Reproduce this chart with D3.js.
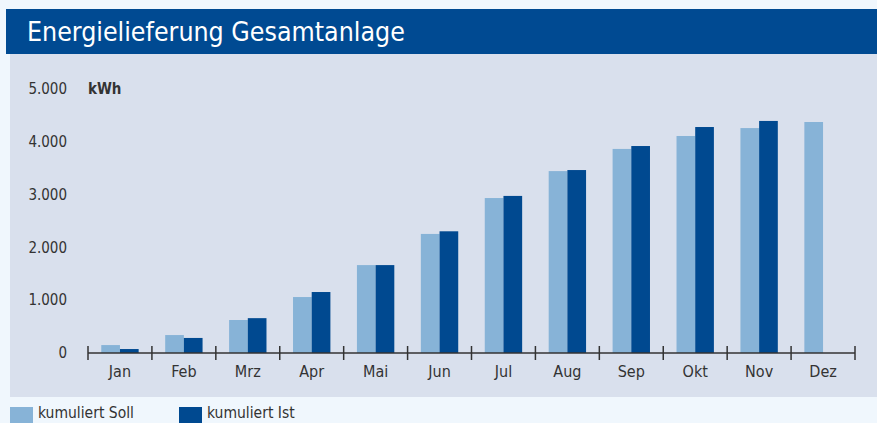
<!DOCTYPE html>
<html>
<head>
  <script src="https://d3js.org/d3.v7.min.js"></script>
  <title>Energielieferung Gesamtanlage</title>
  <style>
    body { margin: 0; background: #f0f7fd; }
    svg { display: block; }
  </style>
</head>
<body>
  <div id="chart"></div>
  <script>
    // data (kWh, cumulative)
    const months = ["Jan", "Feb", "Mrz", "Apr", "Mai", "Jun", "Jul", "Aug", "Sep", "Okt", "Nov", "Dez"];
    const sollValues = [150, 340, 625, 1060, 1665, 2255, 2935, 3445, 3865, 4110, 4260, 4375];
    const istValues = [75, 285, 660, 1155, 1665, 2305, 2975, 3465, 3920, 4280, 4395, null];
    const yTicks = [0, 1000, 2000, 3000, 4000, 5000];
    const seriesNames = ["kumuliert Soll", "kumuliert Ist"];
    const seriesColors = ["#87b3d7", "#004990"];

    const W = 877, H = 423;
    const font = "'Liberation Sans Narrow', 'DejaVu Sans Condensed', 'Roboto Condensed', sans-serif";

    const svg = d3.select("#chart").append("svg")
      .attr("width", W)
      .attr("height", H)
      .style("font-family", font);

    // page background, title bar, chart panel
    svg.append("rect").attr("width", W).attr("height", H).attr("fill", "#f0f7fd");
    svg.append("rect").attr("x", 6).attr("y", 9).attr("width", W - 6).attr("height", 45).attr("fill", "#004a92");
    svg.append("text")
      .attr("x", 27).attr("y", 41)
      .attr("fill", "#fff")
      .style("font-size", "26.5px")
      .text("Energielieferung Gesamtanlage");
    svg.append("rect").attr("x", 10).attr("y", 54).attr("width", W - 10).attr("height", 343).attr("fill", "#d9e0ed");

    // scales
    const x = d3.scaleBand().domain(months).range([88, 855]).paddingInner(0).paddingOuter(0);
    const x1 = d3.scaleBand().domain(seriesNames).range([0, x.bandwidth()]).paddingInner(0).paddingOuter(0.71);
    const y = d3.scaleLinear().domain([0, 5000]).range([353, 89]);

    // y labels
    const fmt = d3.formatLocale({ decimal: ",", thousands: ".", grouping: [3], currency: ["", "€"] }).format(",d");
    svg.append("g").selectAll("text")
      .data(yTicks)
      .join("text")
      .attr("x", 67)
      .attr("y", d => y(d))
      .attr("dy", "0.35em")
      .attr("text-anchor", "end")
      .attr("fill", "#333")
      .style("font-size", "15px")
      .text(d => fmt(d));
    svg.append("text")
      .attr("x", 88).attr("y", y(5000)).attr("dy", "0.35em")
      .attr("fill", "#333")
      .style("font-size", "15px")
      .style("font-weight", "bold")
      .text("kWh");

    // bars
    const rows = months.map((m, i) => ({ month: m, vals: [sollValues[i], istValues[i]] }));
    svg.append("g").selectAll("g")
      .data(rows)
      .join("g")
      .attr("transform", d => `translate(${x(d.month)},0)`)
      .selectAll("rect")
      .data(d => d.vals.map((v, j) => ({ key: seriesNames[j], v: v, c: seriesColors[j] })).filter(e => e.v != null))
      .join("rect")
      .attr("x", d => x1(d.key))
      .attr("width", x1.bandwidth())
      .attr("y", d => y(d.v))
      .attr("height", d => y(0) - y(d.v))
      .attr("fill", d => d.c);

    // x axis: baseline, ticks at band edges, month labels
    const axis = svg.append("g").attr("stroke", "#333").attr("stroke-width", 1.5);
    axis.append("line").attr("x1", 88).attr("x2", 855).attr("y1", y(0)).attr("y2", y(0));
    const edges = months.map(m => x(m)).concat([x.range()[1]]);
    axis.selectAll("line.tick")
      .data(edges)
      .join("line")
      .attr("class", "tick")
      .attr("x1", d => d).attr("x2", d => d)
      .attr("y1", y(0) - 7).attr("y2", y(0) + 7);
    svg.append("g")
      .attr("transform", `translate(0,${y(0)})`)
      .call(d3.axisBottom(x).tickSize(0).tickPadding(13))
      .call(g => g.select(".domain").remove())
      .call(g => g.selectAll("text").attr("fill", "#333").style("font-size", "16px").style("font-family", font));

    // legend
    const legend = svg.append("g");
    const legendX = [10, 179];
    seriesNames.forEach((n, i) => {
      legend.append("rect").attr("x", legendX[i]).attr("y", 407).attr("width", 23).attr("height", 16).attr("fill", seriesColors[i]);
      legend.append("text").attr("x", legendX[i] + 28).attr("y", 418)
        .attr("fill", "#333").style("font-size", "15.5px").text(n);
    });
  </script>
</body>
</html>
